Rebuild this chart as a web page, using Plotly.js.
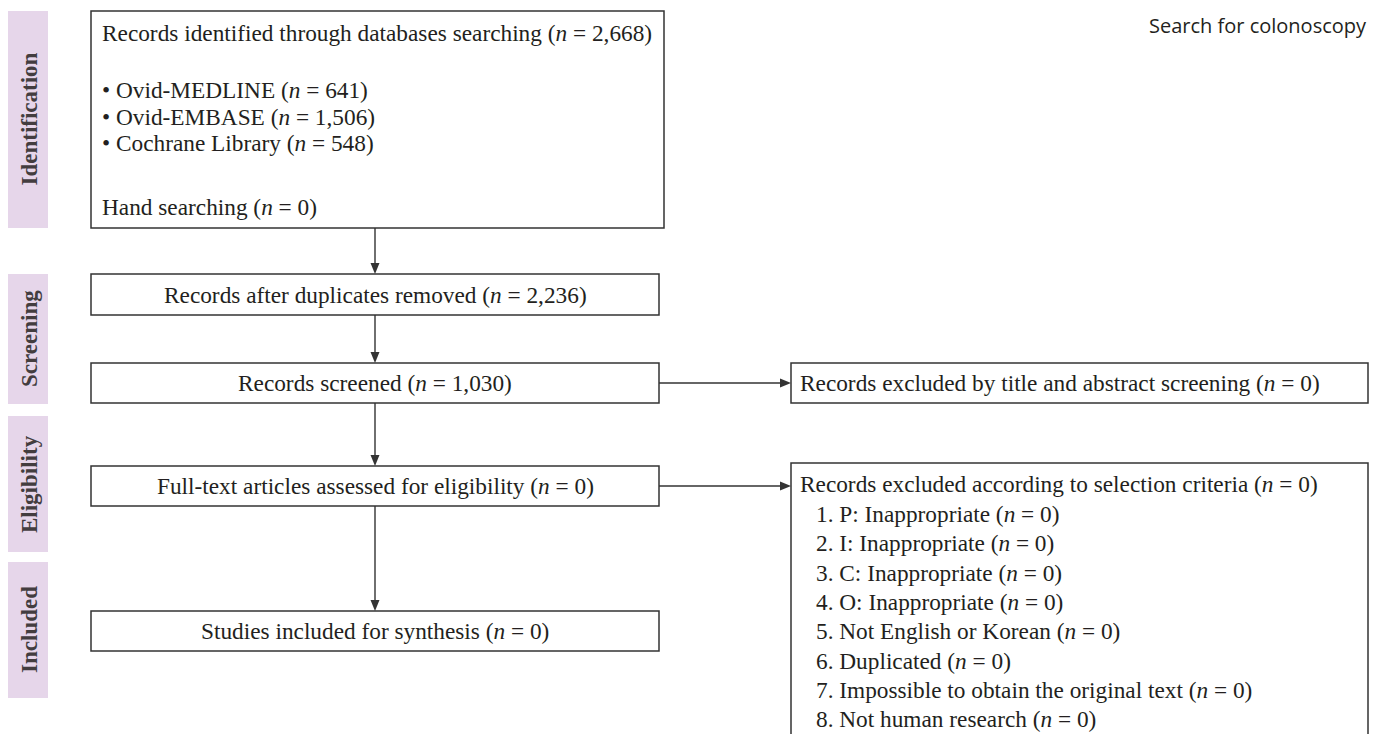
<!DOCTYPE html>
<html>
<head>
<meta charset="utf-8">
<script src="https://cdn.plot.ly/plotly-3.0.1.min.js"></script>
<style>html,body{margin:0;padding:0;background:#fff;}#chart{width:1386px;height:734px;}</style>
</head>
<body>
<div id="chart"></div>
<script>
// ---- data ----
const chartTitle = 'Search for colonoscopy';
const stages = ['Identification', 'Screening', 'Eligibility', 'Included'];
const identifiedLabel = 'Records identified through databases searching';
const identifiedCount = '2,668';
const dbSources = ['Ovid-MEDLINE', 'Ovid-EMBASE', 'Cochrane Library'];
const dbCounts = ['641', '1,506', '548'];
const handLabel = 'Hand searching';
const handCount = '0';
const flowSteps = ['Records after duplicates removed', 'Records screened', 'Full-text articles assessed for eligibility', 'Studies included for synthesis'];
const flowCounts = ['2,236', '1,030', '0', '0'];
const exclusionLabels = ['Records excluded by title and abstract screening', 'Records excluded according to selection criteria'];
const exclusionCounts = ['0', '0'];
const criteria = ['P: Inappropriate', 'I: Inappropriate', 'C: Inappropriate', 'O: Inappropriate', 'Not English or Korean', 'Duplicated', 'Impossible to obtain the original text', 'Not human research'];
const criteriaCounts = ['0', '0', '0', '0', '0', '0', '0', '0'];

// ---- layout geometry (pixels) ----
const W = 1386, H = 734;
const bandX = [8, 48];
const bandY = [[11, 228], [274, 404], [416, 552], [562, 698]];
const leftX = [91, 659];
const box1 = {x0: 91, x1: 664, y0: 11, y1: 228};
const flowY = [[274, 315], [363, 403], [466, 506], [611, 651]];
const rightX = [791, 1368];
const rightY = [[363, 403], [463, 745]];
const arrowX = 375;
const textPadL = 100;
const box1Lines = {title: 33, bullets: [90, 117, 143], hand: 207};
const rightTextX = 798, critX = 814, critY0 = 514, critStep = 29.3;

const serif = 'Liberation Serif, Times New Roman, serif';
const ink = '#231f20';
const lineCol = '#333333';
const bandCol = '#e6d6ea';
const fs = 23.3;

const nTxt = c => '(<i>n</i> = ' + c + ')';

const shapes = [];
const annotations = [];

// stage bands
stages.forEach((s, i) => {
  shapes.push({type: 'rect', xref: 'x', yref: 'y', x0: bandX[0], x1: bandX[1], y0: bandY[i][0], y1: bandY[i][1], fillcolor: bandCol, line: {width: 0}, layer: 'below'});
  annotations.push({x: (bandX[0] + bandX[1]) / 2 + 1, y: (bandY[i][0] + bandY[i][1]) / 2, xref: 'x', yref: 'y', text: '<b>' + s + '</b>', textangle: -90, showarrow: false, font: {family: serif, size: 23, color: '#433d3f'}, xanchor: 'center', yanchor: 'middle'});
});

const boxLine = {color: lineCol, width: 1.5};
// box 1
shapes.push({type: 'rect', xref: 'x', yref: 'y', x0: box1.x0, x1: box1.x1, y0: box1.y0, y1: box1.y1, line: boxLine, fillcolor: 'rgba(0,0,0,0)'});
annotations.push({x: textPadL, y: box1Lines.title, xref: 'x', yref: 'y', text: identifiedLabel + ' ' + nTxt(identifiedCount), showarrow: false, xanchor: 'left', yanchor: 'middle', align: 'left', font: {family: serif, size: fs, color: ink}});
dbSources.forEach((d, i) => {
  annotations.push({x: textPadL, y: box1Lines.bullets[i], xref: 'x', yref: 'y', text: '• ' + d + ' ' + nTxt(dbCounts[i]), showarrow: false, xanchor: 'left', yanchor: 'middle', align: 'left', font: {family: serif, size: fs, color: ink}});
});
annotations.push({x: textPadL, y: box1Lines.hand, xref: 'x', yref: 'y', text: handLabel + ' ' + nTxt(handCount), showarrow: false, xanchor: 'left', yanchor: 'middle', align: 'left', font: {family: serif, size: fs, color: ink}});

// flow boxes
flowSteps.forEach((s, i) => {
  shapes.push({type: 'rect', xref: 'x', yref: 'y', x0: leftX[0], x1: leftX[1], y0: flowY[i][0], y1: flowY[i][1], line: boxLine, fillcolor: 'rgba(0,0,0,0)'});
  annotations.push({x: (leftX[0] + leftX[1]) / 2, y: (flowY[i][0] + flowY[i][1]) / 2, xref: 'x', yref: 'y', text: s + ' ' + nTxt(flowCounts[i]), showarrow: false, xanchor: 'center', yanchor: 'middle', font: {family: serif, size: fs, color: ink}});
});

// arrows
function arrowDown(x, ya, yb) {
  shapes.push({type: 'line', xref: 'x', yref: 'y', x0: x, x1: x, y0: ya, y1: yb - 9, line: {color: lineCol, width: 1.4}});
  shapes.push({type: 'path', xref: 'x', yref: 'y', path: `M ${x - 4.5} ${yb - 11} L ${x + 4.5} ${yb - 11} L ${x} ${yb} Z`, fillcolor: lineCol, line: {width: 0}});
}
function arrowRight(y, xa, xb) {
  shapes.push({type: 'line', xref: 'x', yref: 'y', x0: xa, x1: xb - 9, y0: y, y1: y, line: {color: lineCol, width: 1.4}});
  shapes.push({type: 'path', xref: 'x', yref: 'y', path: `M ${xb - 11} ${y - 4.5} L ${xb - 11} ${y + 4.5} L ${xb} ${y} Z`, fillcolor: lineCol, line: {width: 0}});
}
const vSegs = [[box1.y1, flowY[0][0]], [flowY[0][1], flowY[1][0]], [flowY[1][1], flowY[2][0]], [flowY[2][1], flowY[3][0]]];
vSegs.forEach(s => arrowDown(arrowX, s[0], s[1]));

// right boxes
exclusionLabels.forEach((s, i) => {
  shapes.push({type: 'rect', xref: 'x', yref: 'y', x0: rightX[0], x1: rightX[1], y0: rightY[i][0], y1: rightY[i][1], line: boxLine, fillcolor: 'rgba(0,0,0,0)'});
});
arrowRight((flowY[1][0] + flowY[1][1]) / 2, leftX[1], rightX[0]);
arrowRight((flowY[2][0] + flowY[2][1]) / 2, leftX[1], rightX[0]);
annotations.push({x: rightTextX, y: (rightY[0][0] + rightY[0][1]) / 2, xref: 'x', yref: 'y', text: exclusionLabels[0] + ' ' + nTxt(exclusionCounts[0]), showarrow: false, xanchor: 'left', yanchor: 'middle', align: 'left', font: {family: serif, size: fs, color: ink}});
annotations.push({x: rightTextX, y: (flowY[2][0] + flowY[2][1]) / 2 - 2, xref: 'x', yref: 'y', text: exclusionLabels[1] + ' ' + nTxt(exclusionCounts[1]), showarrow: false, xanchor: 'left', yanchor: 'middle', align: 'left', font: {family: serif, size: fs, color: ink}});
criteria.forEach((c, i) => {
  annotations.push({x: critX, y: critY0 + i * critStep, xref: 'x', yref: 'y', text: (i + 1) + '. ' + c + ' ' + nTxt(criteriaCounts[i]), showarrow: false, xanchor: 'left', yanchor: 'middle', align: 'left', font: {family: serif, size: fs, color: ink}});
});

// title
annotations.push({x: 1369, y: 25, xref: 'x', yref: 'y', text: chartTitle, showarrow: false, xanchor: 'right', yanchor: 'middle', font: {family: 'Open Sans, Noto Sans, sans-serif', size: 20, color: ink}});

const layout = {
  width: W, height: H,
  margin: {l: 0, r: 0, t: 0, b: 0},
  paper_bgcolor: '#ffffff', plot_bgcolor: '#ffffff',
  xaxis: {range: [0, W], visible: false, fixedrange: true},
  yaxis: {range: [H, 0], visible: false, fixedrange: true},
  showlegend: false,
  shapes: shapes,
  annotations: annotations
};
Plotly.newPlot('chart', [], layout, {displayModeBar: false, staticPlot: true});
</script>
</body>
</html>
